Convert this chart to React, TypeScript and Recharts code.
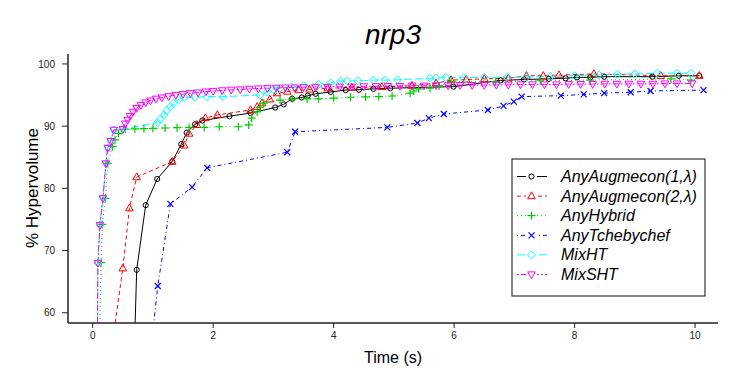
import React from 'react';
import { LineChart, Line, XAxis, YAxis } from 'recharts';

const xTicks = [0, 2, 4, 6, 8, 10];
const yTicks = [60, 70, 80, 90, 100];
const xDomain = [-0.41, 10.38];
const yDomain = [58.35, 101.6];

const augmecon1: [number, number][] = [
  [0.65, 40], [0.73, 66.9], [0.88, 77.3], [1.07, 81.5], [1.32, 84.3], [1.47, 87.1], [1.56, 88.95],
  [1.7, 90.3], [1.82, 90.9], [2.27, 91.6], [2.62, 92.1], [3.03, 93.0], [3.17, 93.5], [3.31, 94.4],
  [3.47, 94.6], [3.57, 94.9], [3.7, 95.2], [3.95, 95.5], [4.2, 95.8], [4.42, 95.85], [4.66, 96.0],
  [4.94, 96.1], [5.99, 96.35], [6.77, 97.35], [7.16, 97.5], [7.57, 97.6], [7.85, 97.7], [8.04, 97.85],
  [8.26, 97.85], [8.49, 97.95], [9.29, 97.95], [9.73, 98.1], [10.07, 98.1],
];

const augmecon2: [number, number][] = [
  [0.18, 45], [0.5, 67.15], [0.61, 76.8], [0.73, 81.8], [1.32, 84.3], [1.52, 86.9], [1.6, 88.8],
  [1.73, 90.2], [1.87, 91.3], [2.07, 91.8], [2.62, 92.6], [2.73, 93.1], [2.81, 93.7], [2.94, 94.3],
  [3.06, 95.3], [3.23, 95.55], [3.42, 95.8], [3.6, 95.9], [3.9, 96.1], [4.3, 96.2], [4.8, 96.3],
  [5.3, 96.5], [5.7, 96.9], [5.95, 97.4], [6.2, 97.5], [6.5, 97.6], [6.9, 97.7], [7.2, 98.1],
  [7.48, 98.1], [7.74, 98.2], [8.32, 98.4], [9.43, 98.1], [10.07, 98.1],
];

const hybrid: [number, number][] = [
  [0.1, 50], [0.14, 68.05], [0.16, 74.2], [0.21, 78.4], [0.25, 84.0], [0.33, 86.7], [0.37, 87.8],
  [0.43, 88.85], [0.54, 89.5], [0.7, 89.55], [0.85, 89.6], [1.0, 89.65], [1.2, 89.7], [1.4, 89.75],
  [1.6, 89.8], [1.85, 89.8], [2.1, 89.9], [2.42, 89.9], [2.59, 90.2], [2.64, 91.3], [2.73, 92.3],
  [2.78, 93.0], [2.84, 93.7], [3.11, 94.2], [3.31, 94.4], [3.56, 94.4], [3.75, 94.4], [4.0, 94.5],
  [4.28, 94.65], [4.53, 94.7], [4.75, 94.75], [4.97, 94.85], [5.27, 95.3], [5.33, 95.65], [5.41, 96.0],
  [5.6, 96.1], [5.75, 96.45], [5.95, 97.15], [6.69, 97.15], [7.43, 97.3], [8.26, 97.4], [9.6, 97.6],
  [9.93, 97.4],
];

const tchebychef: [number, number][] = [
  [0.92, 50], [1.08, 64.3], [1.29, 77.5], [1.65, 80.2], [1.9, 83.3], [3.23, 85.8], [3.36, 89.1],
  [4.89, 89.8], [5.39, 90.5], [5.58, 91.3], [5.83, 91.95], [6.56, 92.6], [6.82, 93.25], [6.99, 93.95],
  [7.12, 94.75], [7.77, 94.9], [8.15, 95.1], [8.49, 95.3], [8.93, 95.45], [9.26, 95.65], [10.14, 95.8],
];

const mixHT: [number, number][] = [
  [0.075, 50], [0.086, 68.0], [0.12, 74.1], [0.17, 78.4], [0.22, 84.0], [0.25, 86.5], [0.3, 87.6],
  [0.35, 89.4], [0.5, 89.5], [1.08, 90.6], [1.12, 91.1], [1.18, 91.8], [1.23, 92.5], [1.29, 93.1],
  [1.34, 93.7], [1.43, 94.3], [1.52, 94.6], [1.7, 94.65], [1.9, 94.75], [2.16, 94.75], [2.78, 95.0],
  [2.9, 95.5], [3.0, 95.9], [3.11, 96.1], [3.3, 96.3], [3.5, 96.5], [3.75, 96.7], [3.95, 96.95],
  [4.11, 97.2], [4.22, 97.25], [4.4, 97.3], [4.66, 97.4], [4.85, 97.4], [5.06, 97.45], [5.6, 97.7],
  [5.7, 97.7], [5.86, 97.85], [6.16, 97.8], [6.5, 97.85], [6.88, 97.85], [7.2, 97.9], [7.6, 98.0],
  [8.0, 98.1], [8.4, 98.25], [8.71, 98.35], [9.0, 98.4], [9.37, 98.5], [9.7, 98.5], [9.93, 98.5],
];

const mixSHT: [number, number][] = [
  [0.075, 50], [0.086, 68.0], [0.12, 74.1], [0.17, 78.4], [0.22, 84.0], [0.25, 86.5], [0.3, 87.6],
  [0.35, 89.4], [0.5, 89.5], [0.54, 90.4], [0.58, 91.0], [0.62, 91.6], [0.67, 92.3], [0.73, 92.9],
  [0.8, 93.4], [0.88, 93.8], [0.96, 94.1], [1.05, 94.4], [1.15, 94.6], [1.26, 94.8], [1.38, 95.0],
  [1.5, 95.15], [1.62, 95.3], [1.75, 95.4], [1.88, 95.55], [2.0, 95.65], [2.15, 95.75], [2.3, 95.85],
  [2.45, 95.9], [2.6, 96.0], [2.75, 96.05], [2.9, 96.1], [3.05, 96.15], [3.2, 96.2], [3.35, 96.2],
  [3.5, 96.25], [3.7, 96.3], [3.9, 96.3], [4.1, 96.35], [4.3, 96.35], [4.5, 96.4], [4.7, 96.4],
  [4.9, 96.45], [5.1, 96.45], [5.3, 96.5], [5.5, 96.5], [5.7, 96.55], [5.9, 96.55], [6.1, 96.6],
  [6.3, 96.6], [6.5, 96.6], [6.7, 96.65], [6.9, 96.65], [7.1, 96.7], [7.3, 96.7], [7.5, 96.7],
  [7.7, 96.7], [7.9, 96.75], [8.1, 96.75], [8.3, 96.75], [8.5, 96.8], [8.7, 96.8], [8.9, 96.8],
  [9.1, 96.8], [9.3, 96.8], [9.5, 96.85], [9.7, 96.85], [9.95, 96.85],
];

const seriesNames = ['AnyAugmecon(1,\u03BB)', 'AnyAugmecon(2,\u03BB)', 'AnyHybrid', 'AnyTchebychef', 'MixHT', 'MixSHT'];
const seriesData = [augmecon1, augmecon2, hybrid, tchebychef, mixHT, mixSHT];
const seriesColors = ['#000000', '#FF0000', '#00CD00', '#0000FF', '#00FFFF', '#FF00FF'];
const seriesDash = ['', '4 3', '1 3', '1 3 4 3', '8 3', '2 2 6 2'];
const seriesShapes = ['circle', 'triangle', 'plus', 'cross', 'diamond', 'triangleDown'];

const FONT = '"Liberation Sans", Arial, sans-serif';

function Marker({ shape, cx, cy, color }: { shape: string; cx: number; cy: number; color: string }) {
  const common = { fill: 'none', stroke: color, strokeWidth: 1 };
  switch (shape) {
    case 'circle':
      return <circle cx={cx} cy={cy} r={2.6} {...common} />;
    case 'triangle':
      return <polygon points={`${cx},${cy - 4.2} ${cx - 3.8},${cy + 2.6} ${cx + 3.8},${cy + 2.6}`} {...common} />;
    case 'triangleDown':
      return <polygon points={`${cx - 3.8},${cy - 2.6} ${cx + 3.8},${cy - 2.6} ${cx},${cy + 4.2}`} {...common} />;
    case 'plus':
      return <path d={`M${cx - 4},${cy}H${cx + 4}M${cx},${cy - 4}V${cy + 4}`} {...common} strokeWidth={1.2} />;
    case 'cross':
      return <path d={`M${cx - 3},${cy - 3}L${cx + 3},${cy + 3}M${cx - 3},${cy + 3}L${cx + 3},${cy - 3}`} {...common} strokeWidth={1.2} />;
    case 'diamond':
      return <polygon points={`${cx},${cy - 4} ${cx + 4},${cy} ${cx},${cy + 4} ${cx - 4},${cy}`} {...common} />;
    default:
      return null;
  }
}

function makeDot(shape: string, color: string) {
  return (props: any) => {
    const { cx, cy, payload, index } = props;
    if (payload.y < yDomain[0] || cx == null || cy == null) return <g key={`d-${index}`} />;
    return (
      <g key={`d-${index}`}>
        <Marker shape={shape} cx={cx} cy={cy} color={color} />
      </g>
    );
  };
}

function LegendBox() {
  return (
    <svg width={196} height={140} style={{ position: 'absolute', left: 503, top: 150, overflow: 'visible' }}>
      <rect x={1} y={1} width={193} height={137} fill="#fff" stroke="#333" strokeWidth={1.2} />
      {seriesNames.map((name, i) => {
        const y = 18.5 + i * 19.6;
        return (
          <g key={name}>
            <line x1={6} x2={36} y1={y} y2={y} stroke={seriesColors[i]} strokeWidth={1} strokeDasharray={seriesDash[i] || undefined} />
            <rect x={15} y={y - 5} width={11} height={10} fill="#fff" />
            <Marker shape={seriesShapes[i]} cx={20.5} cy={y} color={seriesColors[i]} />
            <text x={50} y={y + 5.5} fontFamily={FONT} fontSize={16} fontStyle="italic" fill="#000">{name}</text>
          </g>
        );
      })}
    </svg>
  );
}

export default function App() {
  const tickStyle = { fontSize: 10, fill: '#222', fontFamily: FONT };
  return (
    <div style={{ position: 'relative', width: 739, height: 366 }}>
      <LineChart width={739} height={366} margin={{ top: 46, right: 29, bottom: 21, left: 20 }}>
        <XAxis
          type="number"
          dataKey="x"
          domain={xDomain}
          ticks={xTicks}
          allowDataOverflow
          height={30}
          tick={tickStyle}
          tickSize={5}
          tickMargin={4}
          stroke="#222"
          axisLine={{ stroke: '#222', strokeWidth: 1.5 }}
          tickLine={{ stroke: '#222' }}
        />
        <XAxis
          xAxisId="top"
          orientation="top"
          type="number"
          dataKey="x"
          domain={xDomain}
          allowDataOverflow
          height={0}
          tick={false}
          tickLine={false}
          axisLine={{ stroke: '#222', strokeWidth: 1.5 }}
        />
        <YAxis
          type="number"
          domain={yDomain}
          ticks={yTicks}
          allowDataOverflow
          width={40}
          tick={tickStyle}
          tickSize={6}
          tickMargin={7}
          axisLine={{ stroke: '#222', strokeWidth: 1.5 }}
          tickLine={{ stroke: '#222' }}
        />
        <YAxis
          yAxisId="right"
          orientation="right"
          type="number"
          domain={yDomain}
          allowDataOverflow
          width={0}
          tick={false}
          tickLine={false}
          axisLine={{ stroke: '#222', strokeWidth: 1.5 }}
        />
        {seriesData.map((arr, i) => (
          <Line
            key={seriesNames[i]}
            data={arr.map(([x, y]) => ({ x, y }))}
            dataKey="y"
            type="linear"
            stroke={seriesColors[i]}
            strokeWidth={1}
            strokeDasharray={seriesDash[i] || undefined}
            dot={makeDot(seriesShapes[i], seriesColors[i])}
            activeDot={false}
            isAnimationActive={false}
          />
        ))}
      </LineChart>
      <svg width={739} height={366} style={{ position: 'absolute', left: 0, top: 0, pointerEvents: 'none' }}>
        <text x={385} y={36} textAnchor="middle" fontFamily={FONT} fontSize={28} fontStyle="italic" fill="#000">nrp3</text>
        <text x={385} y={355} textAnchor="middle" fontFamily={FONT} fontSize={16} fill="#000">Time (s)</text>
        <text transform="translate(30,180) rotate(-90)" textAnchor="middle" fontFamily={FONT} fontSize={17} fill="#000">% Hypervolume</text>
      </svg>
      <LegendBox />
    </div>
  );
}
